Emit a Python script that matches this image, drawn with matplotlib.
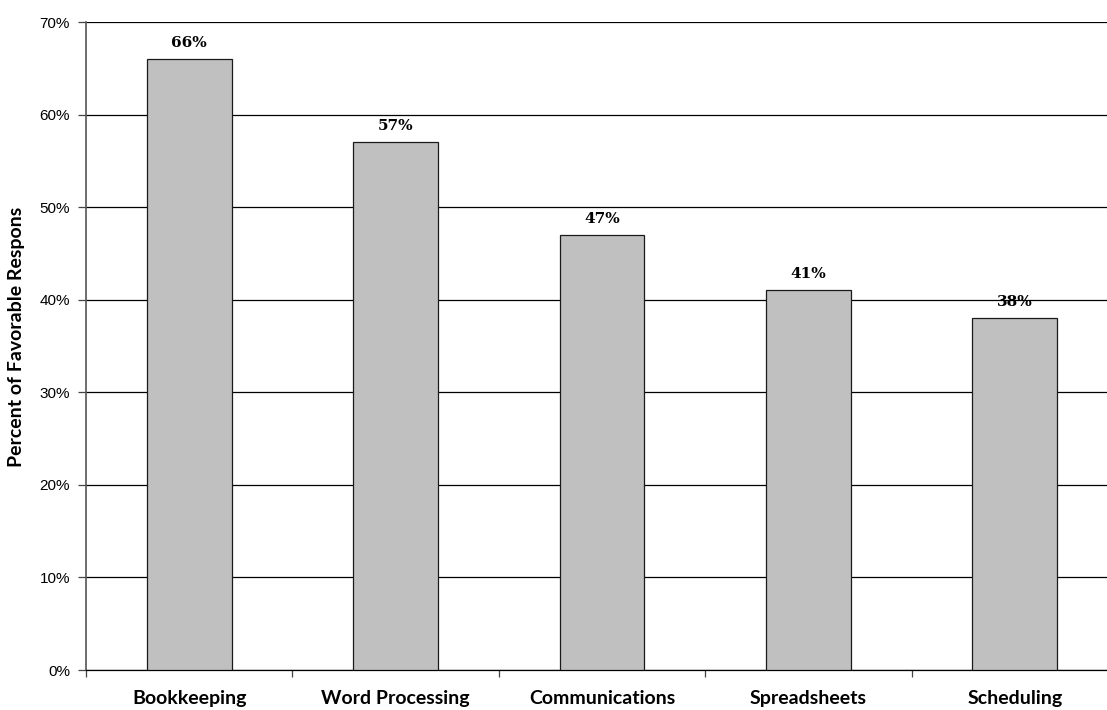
import matplotlib
matplotlib.use("Agg")
import matplotlib.pyplot as plt
import numpy as np
from matplotlib.ticker import FixedLocator, NullFormatter

categories = ["Bookkeeping", "Word Processing", "Communications", "Spreadsheets", "Scheduling"]
values = [66, 57, 47, 41, 38]
y_ticks = [0, 10, 20, 30, 40, 50, 60, 70]
y_tick_labels = [f"{t}%" for t in y_ticks]

W, H = 1107, 710
fig = plt.figure(figsize=(W / 100, H / 100), dpi=100)
fig.patch.set_facecolor("white")

left, right, bottom, top = 86, 1118, 670, 22
ax = fig.add_axes([left / W, (H - bottom) / H, (right - left) / W, (bottom - top) / H])

x = np.arange(len(categories))
bars = ax.bar(x, values, width=0.41, color="#C0C0C0", edgecolor="#1a1a1a",
              linewidth=0.9, zorder=3)

ax.set_xlim(-0.5, len(categories) - 0.5)
ax.set_ylim(0, 70)

# horizontal gridlines
ax.set_yticks(y_ticks)
ax.set_yticklabels(y_tick_labels, fontsize=11, family="Liberation Sans")
ax.yaxis.grid(True, color="black", linewidth=0.9, zorder=0)
ax.set_axisbelow(True)

# category ticks sit on the boundaries between categories
ax.xaxis.set_major_locator(FixedLocator(np.arange(len(categories) + 1) - 0.5))
ax.xaxis.set_major_formatter(NullFormatter())
ax.tick_params(axis="x", direction="out", length=5, width=0.9, color="#444444")
ax.tick_params(axis="y", direction="out", length=6, width=0.9, color="#444444", pad=5.5)

for i, c in enumerate(categories):
    ax.text(i, -2.2, c, ha="center", va="top", fontsize=14,
            fontweight="bold", family="Lato", transform=ax.transData)

for i, v in enumerate(values):
    ax.text(i, v + 1.75, f"{v}%", ha="center", va="center", fontsize=11,
            fontweight="bold", family="DejaVu Serif")

for side in ["top", "right"]:
    ax.spines[side].set_visible(False)
ax.spines["left"].set_color("#555555")
ax.spines["left"].set_linewidth(1.2)
ax.spines["bottom"].set_color("black")
ax.spines["bottom"].set_linewidth(0.9)

fig.text(17 / W, 1 - 337 / H, "Percent of Favorable Respons", rotation=90,
         ha="center", va="center", fontsize=14, fontweight="bold",
         family="Lato")

fig.savefig("out.png", dpi=100)
